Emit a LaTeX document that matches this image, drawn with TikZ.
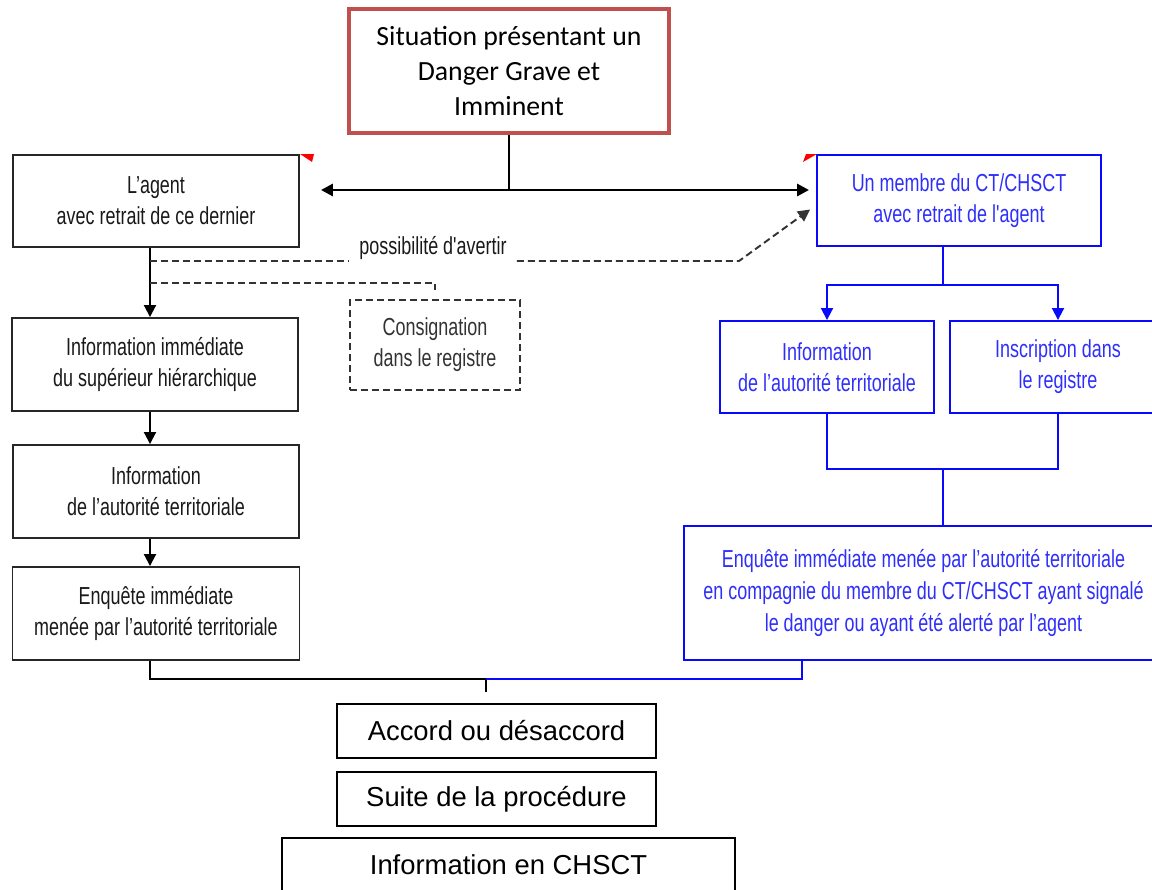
\documentclass[tikz,border=0pt]{standalone}
\usepackage{fontspec}
\newfontfamily\narrowfont[FakeStretch=0.73]{Liberation Sans}
\newfontfamily\arialfont{Liberation Sans}
\newfontfamily\calfont{Carlito}
\usetikzlibrary{positioning, arrows.meta}
\definecolor{dangerred}{RGB}{192,80,77}
\definecolor{ctblue}{RGB}{10,10,250}
\tikzset{
    box/.style={draw=black!85, line width=1.1pt, align=center, inner sep=0pt, text=black!90,
        font=\narrowfont\fontsize{14}{17.6}\selectfont},
    ctbox/.style={box, draw=ctblue, text=ctblue!85!white},
    endbox/.style={draw, line width=0.9pt, align=center, inner sep=0pt, minimum width=6.38cm,
        minimum height=1.08cm, font=\arialfont\fontsize{15.6}{19}\selectfont},
    link/.style={line width=1.1pt},
    blink/.style={link, ctblue},
    arr/.style={link, -{Triangle[length=0.24cm,width=0.24cm]}},
    barr/.style={arr, ctblue},
    dashlink/.style={line width=1.1pt, black!80, dash pattern=on 0.14cm off 0.08cm},
}

\begin{document}
\begin{tikzpicture}[x=0.02cm, y=-0.02cm]
    \clip (0,0) rectangle (1152,889);
    \node[draw=dangerred, line width=2.3pt, minimum width=6.4cm, minimum height=2.48cm, align=center,
        font=\calfont\fontsize{15.8}{19.9}\selectfont] (danger) at (509,71)
        {Situation présentant un\\Danger Grave et\\Imminent};
    \node[box, minimum width=5.72cm, minimum height=1.84cm] (agent) at (156,201) {L’agent\\avec retrait de ce dernier};
    \node[ctbox, minimum width=5.68cm, minimum height=1.82cm] (membre) at (959,200.5) {Un membre du CT/CHSCT\\avec retrait de l'agent};
    \node[box, minimum width=5.72cm, minimum height=1.86cm] (superieur) at (155,364.5) {Information immédiate\\du supérieur hiérarchique};
    \node[box, minimum width=5.72cm, minimum height=1.86cm] (autorite) at (156,491.5) {Information\\de l’autorité territoriale};
    \node[box, minimum width=5.74cm, minimum height=1.86cm] (enquete) at (156,613.5) {Enquête immédiate\\menée par l’autorité territoriale};
    \node[box, dashlink, minimum width=3.4cm, minimum height=1.8cm] (registre) at (435,345) {Consignation\\dans le registre};
    \node[font=\narrowfont\fontsize{14}{17.6}\selectfont, text=black!90, inner xsep=0.2cm, inner ysep=0pt] (avertir) at (433,248) {possibilité d'avertir};
    \node[ctbox, minimum width=4.28cm, minimum height=1.84cm] (autoriteR) at (827,367) {Information\\de l’autorité territoriale};
    \node[ctbox, minimum width=4.32cm, minimum height=1.84cm] (inscription) at (1058,367) {Inscription dans\\le registre};
    \node[ctbox, minimum width=9.58cm, minimum height=2.68cm, font=\narrowfont\fontsize{14}{18}\selectfont] (enqueteR) at (923.5,593)
        {Enquête immédiate menée par l’autorité territoriale\\en compagnie du membre du CT/CHSCT ayant signalé\\le danger ou ayant été alerté par l’agent};
    \node[endbox] (accord) at (496.5,731) {Accord ou désaccord};
    \node[endbox] (suite) at (496.5,799) {Suite de la procédure};
    \node[endbox, minimum width=9.06cm] (chsct) at (508.5,865) {Information en CHSCT};

    \fill[red] (300,154) -- (314,154) -- (312,162) -- cycle;
    \fill[red] (806,154) -- (817,154) -- (803,162) -- cycle;

    \coordinate (split) at (509,190);
    \draw[link] (danger.south) -- (split);
    \draw[arr, line width=1.6pt] (split) -- ([xshift=0.42cm]agent.east |- split);
    \draw[arr, line width=1.6pt] (split) -- ([xshift=-0.14cm]membre.west |- split);

    \coordinate (trunk) at (150,0);
    \draw[arr] (agent.south -| trunk) -- (superieur.north -| trunk);
    \draw[arr] (superieur.south -| trunk) -- (autorite.north -| trunk);
    \draw[arr] (autorite.south -| trunk) -- (enquete.north -| trunk);

    \coordinate (warn) at (150,261);
    \coordinate (bend) at (739,261);
    \coordinate (note) at (150,283);
    \draw[dashlink] (warn) -- (warn -| avertir.west);
    \draw[dashlink, -{Triangle[length=0.24cm,width=0.24cm]}] (warn -| avertir.east) -- (bend)
        -- ([xshift=-0.12cm,yshift=-0.18cm]membre.west);
    \draw[dashlink, shorten >=0.18cm] (note) -| (registre.north);

    \coordinate (rtrunk) at (943,285);
    \coordinate (rjoin) at (943,469);
    \draw[blink] (membre.south -| rtrunk) -- (rtrunk);
    \draw[barr] (rtrunk) -| (autoriteR.north);
    \draw[barr] (rtrunk) -| (inscription.north);
    \draw[blink] (autoriteR.south) |- (rjoin) -| (inscription.south);
    \draw[blink] (rjoin) -- (enqueteR.north -| rjoin);

    \coordinate (merge) at (486,679);
    \coordinate (rfoot) at (802,0);
    \draw[link] (enquete.south -| trunk) |- (merge) -- ++(0,13);
    \draw[blink] (merge) -| (enqueteR.south -| rfoot);
\end{tikzpicture}
\end{document}
